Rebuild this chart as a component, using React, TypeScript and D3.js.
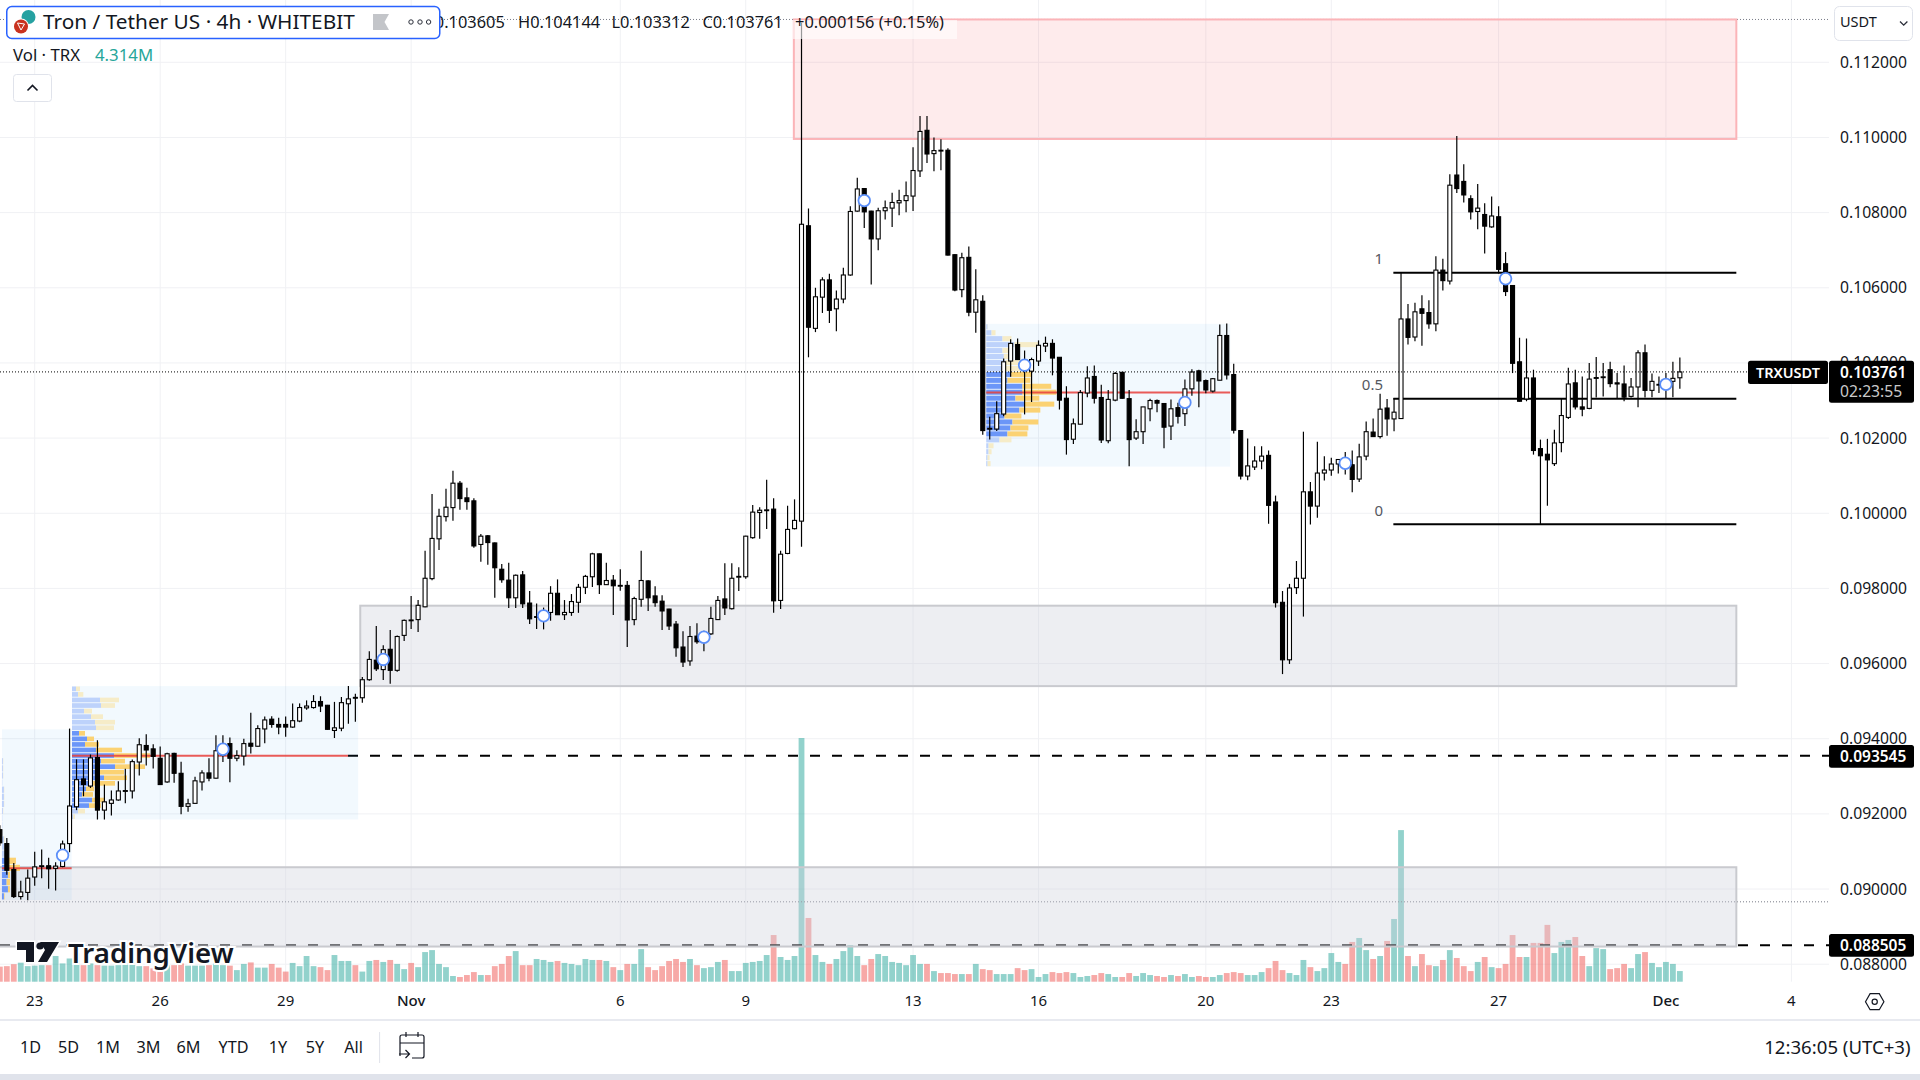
import React, { useEffect, useRef } from 'react';
import * as d3 from 'd3';

// 4h candles, [open, high, low, close], prices x 1000 (first bar is 5 bars before Oct 23)
const octBars = [
  [91.58,91.7,91.15,91.23],[91.21,91.36,90.38,90.5],[90.52,90.69,89.76,89.8],[89.8,90.22,89.72,89.92],[89.91,90.52,89.7,90.29],
  [90.32,90.99,90.09,90.59],[90.6,91.05,90.29,90.62],[90.62,90.83,90.01,90.54],[90.55,90.71,89.96,90.61],[90.6,91.29,90.58,91.2],
  [91.21,94.27,90.98,92.21],[92.19,93.45,92.1,92.91],[92.93,93.45,92.47,92.78],[92.74,93.58,92.69,93.49],[93.5,93.96,91.85,92.1],
  [92.1,92.78,91.85,92.32],[92.28,92.62,91.96,92.37],[92.37,92.87,92.35,92.61],[92.6,93.2,92.28,92.62],[92.61,93.45,92.41,93.39],
  [93.38,94.01,93.02,93.84],[93.82,94.12,93.29,93.7],[93.73,93.85,93.21,93.53],[93.48,93.79,92.78,92.78],[92.85,93.63,92.83,93.6],
  [93.61,93.63,92.83,93.08],[93.08,93.39,91.99,92.2],[92.2,92.4,92.06,92.27],[92.28,92.99,92.28,92.88],[92.85,93.16,92.62,93.09],
  [93.09,93.48,92.87,92.95],[92.95,94.09,92.94,93.68],[93.56,94.09,93.38,93.84],[93.87,94.03,92.84,93.48],[93.48,93.69,93.4,93.55],
  [93.54,94,93.29,93.87],[93.88,94.69,93.61,93.8],[93.8,94.36,93.79,94.27],[94.26,94.59,93.88,94.5],[94.52,94.6,94.29,94.38],
  [94.38,94.56,94.12,94.31],[94.38,94.59,94.05,94.31],[94.31,94.94,94.29,94.48],[94.47,94.94,94.44,94.83],[94.82,95.02,94.77,94.87],
  [94.83,95.16,94.8,94.99],[94.99,95.13,94.71,94.87],[94.89,94.9,94.24,94.25],[94.22,94.98,94.02,94.29],[94.28,95.11,94.2,94.96],
  [94.93,95.4,94.4,95.06],[95.1,95.2,94.45,95.08],[95.09,95.64,94.96,95.57],[95.57,96.33,95.54,96.11],[96.09,97,95.8,95.86],
  [95.84,96.49,95.56,96.37],[96.38,96.89,95.46,95.82],[95.82,96.75,95.78,96.72],[96.75,97.17,96.6,97.15],
];
const novBars = [
  [97.16,97.8,96.92,97.14],[97.17,97.69,96.84,97.55],[97.51,99,97.5,98.27],[98.26,100.51,98.22,99.33],[99.32,100.12,99.02,99.92],
  [99.91,100.65,99.78,100.16],[100.15,101.13,99.8,100.8],[100.8,100.86,100.09,100.39],[100.41,100.68,100.09,100.31],[100.33,100.4,99.08,99.13],
  [99.17,99.45,98.71,99.39],[99.4,99.42,98.63,99.22],[99.21,99.22,97.75,98.55],[98.51,98.65,98.15,98.23],[98.22,98.68,97.48,97.75],
  [97.75,98.37,97.48,98.35],[98.36,98.46,97.48,97.59],[97.61,97.93,97.05,97.19],[97.23,97.6,96.92,97.25],[97.16,97.49,96.91,97.38],
  [97.36,98.06,97.14,97.87],[97.87,98.24,97.3,97.3],[97.3,97.69,97.16,97.36],[97.36,97.85,97.27,97.65],[97.63,98.12,97.35,98.03],
  [98.03,98.36,97.85,98.32],[98.31,98.95,98.04,98.92],[98.92,98.93,97.85,98.1],[98.1,98.68,98.09,98.21],[98.22,98.36,97.29,98.07],
  [98.06,98.51,97.94,98.08],[98.08,98.2,96.44,97.16],[97.17,97.78,97.02,97.73],[97.71,99,97.51,98.21],[98.2,98.22,97.4,97.75],
  [97.8,98.06,97.51,97.62],[97.66,97.82,96.89,97.4],[97.45,97.46,96.89,97],[97.05,97.13,96.18,96.42],[96.44,96.86,95.91,96.04],
  [96.07,97,95.94,96.72],[96.73,97.07,96.53,96.58],[96.58,96.87,96.33,96.8],[96.79,97.51,96.76,97.2],[97.17,97.8,97.16,97.68],
  [97.72,98.67,97.29,97.48],[97.46,98.67,97.44,98.27],[98.3,98.56,97.93,98.32],[98.31,99.4,98.26,99.39],[99.35,100.22,99.32,100.03],
  [100.02,100.16,99.32,100.08],[100.07,100.89,99.58,100.09],[100.11,100.4,97.35,97.67],[97.68,99,97.45,98.91],[98.93,100.2,98.91,99.57],
  [99.59,100.37,99.57,99.81],[99.79,113.05,99.11,107.69],[107.65,108.11,104.15,104.95],[104.92,106,104.82,105.76],[105.75,106.28,105.33,106.21],
  [106.21,106.37,105.06,105.4],[105.44,105.93,104.84,105.7],[105.7,106.53,105.59,106.34],[106.34,108.17,106.32,108.03],[108.04,108.93,108.02,108.63],
  [108.64,108.65,107.59,108.02],[108.04,108.05,106.09,107.3],[107.3,108.13,107,108.05],[108.05,108.32,107.82,108.13],[108.12,108.53,107.62,108.27],
  [108.26,108.61,107.93,108.32],[108.32,108.83,108.01,108.45],[108.44,109.74,108.04,109.12],[109.11,110.57,108.95,110.16],[110.19,110.57,109.32,109.56],
  [109.57,110,109.1,109.65],[109.66,109.95,109.13,109.64],[109.66,109.71,106.86,106.87],[106.88,106.89,105.91,105.94],[105.95,106.93,105.75,106.8],
  [106.81,107.1,105.24,105.35],[105.35,106.49,104.8,105.68],[105.64,105.8,102.09,102.2],[102.26,102.57,101.96,102.24],[102.24,102.98,102.19,102.65],
  [102.64,104.12,102.58,104.03],[104.05,104.63,103.63,104.52],[104.49,104.65,104.08,104.09],[104.09,104.33,102.63,103.83],[103.78,104.14,102.96,104.09],
  [104.05,104.6,103.92,104.47],[104.45,104.7,104.29,104.52],[104.52,104.63,103.67,104.13],[104.15,104.15,102.76,103.01],[103.06,103.38,101.56,101.96],
  [101.97,102.52,101.84,102.38],[102.37,103.28,102.37,103.21],[103.2,103.91,103.09,103.6],[103.64,103.93,102.92,103.06],[103.08,103.42,101.87,101.95],
  [101.93,103.28,101.86,103.03],[103.01,103.76,102.98,103.72],[103.75,103.76,103.05,103.06],[103.05,103.28,101.25,101.96],[102,102.5,101.95,102.17],
  [102.17,102.83,101.84,102.83],[102.78,103.05,102.45,103],[103,103.03,102.69,102.93],[102.92,102.92,101.73,102.29],[102.32,103.03,101.95,102.78],
  [102.81,102.94,102.39,102.58],[102.65,103.56,102.32,103.31],[103.31,103.83,103.13,103.76],[103.79,103.82,102.82,103.52],[103.53,103.56,103.19,103.28],
  [103.25,103.6,103.21,103.58],[103.54,105.02,103.54,104.73],[104.73,105.05,103.56,103.68],[103.69,103.98,102.12,102.21],[102.2,102.21,100.9,100.99],
  [100.99,101.99,100.88,101.26],[101.23,101.78,101.15,101.39],[101.39,101.78,101.17,101.52],[101.54,101.67,99.72,100.21],[100.3,100.47,97.49,97.62],
  [97.63,97.93,95.72,96.1],[96.1,98.12,95.99,98.01],[98.02,98.73,97.85,98.27],[98.27,102.17,97.25,100.57],[100.57,100.83,99.7,100.19],
  [100.19,101.9,99.88,101.07],[101.07,101.52,100.87,101.15],[101.15,101.48,101,101.31],[101.31,101.44,101.06,101.43],[101.43,101.63,101.03,101.25],
  [101.29,101.67,100.56,100.9],[100.91,101.85,100.83,101.5],[101.52,102.44,101.41,102.17],[102.16,102.52,102.03,102.04],[102.04,103.18,101.99,102.77],
  [102.8,103.04,102.06,102.51],[102.51,103.07,102.18,102.69],[102.52,106.42,102.51,105.17],[105.17,105.57,104.49,104.68],[104.69,105.6,104.58,105.36],
  [105.44,105.8,104.46,105.32],[105.34,105.67,104.91,105.04],[105.04,106.84,104.84,106.47],[106.47,106.77,105.93,106.19],[106.18,109.02,106.09,108.73],
  [109,110.04,108.52,108.64],[108.83,109.29,108.27,108.47],[108.37,108.46,107.82,108.02],[108.03,108.76,107.56,108.12],[107.95,108.25,106.91,107.64],
  [107.62,108.43,107.6,107.91],[107.89,108.17,106.38,106.49],[106.64,106.95,105.78,105.9],[106.06,106.07,103.73,103.99],[104.03,104.67,102.97,102.98],
  [103.04,104.65,102.98,103.6],[103.6,103.82,101.56,101.67],[101.72,101.96,99.71,101.53],[101.57,101.98,100.2,101.42],[101.32,102.22,101.26,101.87],
  [101.88,103.07,101.62,102.6],[102.55,103.87,102.51,103.44],[103.47,103.82,102.76,102.83],[102.83,103.64,102.58,102.77],[102.79,104,102.77,103.57],
  [103.59,104.16,103.08,103.61],[103.61,104,103.11,103.63],[103.82,104.03,103.35,103.45],[103.47,103.73,103.04,103.44],[103.44,103.93,102.98,103.09],
  [103.11,103.6,103.08,103.36],[103.36,104.34,102.82,104.27],[104.27,104.49,103.08,103.27],[103.27,103.72,103.09,103.51],[103.41,103.64,103.2,103.43],
];
const decBars = [[103.38,103.73,103.04,103.51],[103.51,104.03,103.09,103.59],[103.605,104.144,103.312,103.761]];

// volume, million TRX
const octVolumes = [
  6.1,6.3,7.1,7.7,6.3,6.5,6.7,6.7,10.4,7.4,9.4,11.5,6.7,7.4,6.7,6.5,6.5,6.7,7.4,7.8,6.3,6.3,5.4,5.4,6.7,6.7,7.4,6.5,6.5,6.5,
  6.7,7.4,6.7,6.5,4.7,7.2,7.8,5.7,5.7,7.2,5.7,4.1,7.6,6.3,10.4,6.3,5.9,4.7,10.8,8.4,8.4,6.7,4.1,8.4,8.8,8,8.8,7.2,5.1,
];
const novVolumes = [
  7.6,5.9,12,12.8,7.2,5.9,2.3,1.9,2.7,3.9,2.7,2.7,6.3,7.2,10.4,12.4,6.7,6.7,9.2,8.8,8,8.4,7.6,7.2,6.7,9.2,8.8,8.8,8.4,5.9,
  4.7,7.2,7.2,13.2,5.9,4.7,6.3,8.4,9.2,8,9.2,6.7,5.5,5.9,8,8.8,4.3,4.3,7.6,8,8.4,10.8,18.9,10,8.8,10.4,98.7,25.8,10.8,8,
  7.2,9.2,12.4,14.8,10.4,6.7,9.2,11.2,10.4,8,7.6,6.7,10.8,7.2,7.2,4.3,3.5,3.5,3.1,3.1,3.1,7.2,5.1,4.7,3.1,3.1,3.1,5.5,4.7,5.1,
  1.9,3.1,3.9,3.5,3.9,3.5,1.9,2.3,2.7,3.5,3.1,1.9,1.9,3.5,2.3,3.5,2.7,2.3,1.9,2.7,2.3,3.1,1.9,2.3,1.9,1.9,2.7,3.5,3.9,3.5,
  2.7,2.7,3.9,5.5,8.4,4.7,3.5,2.7,8.8,5.9,4.3,5.5,11.6,8,7.2,16.1,17.7,12.8,9.2,10.4,16.5,25.4,61.4,10.4,6.3,11.2,6.7,6.3,8.8,12.8,
  9.6,6.3,4.3,8,10,5.9,5.5,7.2,18.9,10,10,15.7,15.7,23,11.6,16.1,16.9,18.1,10.4,6.3,13.6,13.2,5.1,5.5,7.2,5.5,11.2,12,7.6,5.9,
];
const decVolumes = [8, 7.2, 4.314];

const FIRST_BAR = -5;
const bars = [...octBars, ...novBars, ...decBars];
const volumes = [...octVolumes, ...novVolumes, ...decVolumes];

const priceTicks = [112, 110, 108, 106, 104, 102, 100, 98, 96, 94, 92, 90, 88];
const dateLabels = ['23', '26', '29', 'Nov', '6', '9', '13', '16', '20', '23', '27', 'Dec', '4'];
const dateBars = [0, 18, 36, 54, 84, 102, 126, 144, 168, 186, 210, 234, 252];
const rangeLabels = ['1D', '5D', '1M', '3M', '6M', 'YTD', '1Y', '5Y', 'All'];
const rangeCenters = [30.6, 68.6, 108, 148.6, 188.6, 233.5, 278, 315, 353.5];

// circle markers on the candles
const markerBars = [4, 27, 50, 73, 96, 119, 142, 165, 188, 211, 234];
const markerPrices = [90.9, 93.72, 96.11, 97.27, 96.7, 108.32, 103.94, 102.95, 101.33, 106.24, 103.43];

// zones: bar start, top price, bottom price. All end at the same bar.
const ZONE_END_BAR = 244.1;
const resistanceZone = { bar: 108.9, top: 113.14, bottom: 109.96 };
const supportZones = [
  { bar: 46.7, top: 97.54, bottom: 95.4 },
  { bar: -6, top: 90.58, bottom: 88.47 },
];

// fib retracement
const fibLevels = [1, 0.5, 0];
const fibPrices = [106.4, 103.05, 99.71];
const FIB_START_BAR = 194.9;

// volume profiles: up / down volume per row, top row first
const profileAUp = [0,0,0,0,3,3,3,1,6,6,6,3,1,1,2,6,8,10,14,18,18,14,18,6];
const profileADown = [0,0,0,0,1,1,1,0,1,1,1,1,0,0,1,2,2,2,28,36,6,10,6,2];
const profileBUp = [12,18,84,87,36,57,69,72,21,45,39,72,126,87,129,81,96,57,42,30,60,51,18,4];
const profileBDown = [12,16,57,42,24,36,60,54,18,21,42,78,108,72,90,75,69,72,24,33,39,36,21,5];
const profileCUp = [4,16,49,85,49,53,58,56,75,64,109,109,88,115,100,55,79,73,64,40,7,7,4,4];
const profileCDown = [1,12,27,73,24,23,45,47,62,69,87,102,72,90,63,51,78,54,60,36,15,9,6,9];
const profileCore = [
  { up: profileAUp, down: profileADown, from: 18, to: 23 },
  { up: profileBUp, down: profileBDown, from: 8, to: 21 },
  { up: profileCUp, down: profileCDown, from: 8, to: 18 },
];
const profileBox = [
  { x0: -4.7, x1: 5.3, top: 94.25, bottom: 89.71, poc: 90.55, width: 18, pocEnd: 5.3 },
  { x0: 5.35, x1: 46.4, top: 95.4, bottom: 91.85, poc: 93.545, width: 78, pocEnd: 44.95 },
  { x0: 136.5, x1: 171.5, top: 105.04, bottom: 101.24, poc: 103.21, width: 70, pocEnd: 171.5 },
];

const ink = '#131722';
const font = '"Noto Sans", sans-serif';

export default function App() {
  const svgRef = useRef<SVGSVGElement>(null);

  useEffect(() => {
    if (!svgRef.current) return;
    const svg = d3.select(svgRef.current);
    svg.selectAll('*').remove();
    svg.attr('font-family', font);

    const x = d3.scaleLinear().domain([0, 252]).range([34.7, 1791.4]);
    const y = d3.scaleLinear().domain([88, 112]).range([964.2, 62.3]);
    const volY = d3.scaleLinear().domain([0, 98.7]).range([981.7, 738]);
    const PLOT_RIGHT = 1829;

    const text = (g: any, s: string, tx: number, ty: number, size: number, fill: string, anchor = 'start', weight = 400) =>
      g.append('text').attr('x', tx).attr('y', ty).attr('dy', '0.35em').attr('font-size', size)
        .attr('fill', fill).attr('text-anchor', anchor).attr('font-weight', weight).text(s);

    // background and grid
    svg.append('rect').attr('width', 1920).attr('height', 1080).attr('fill', '#fff');
    const grid = svg.append('g').attr('stroke', '#f0f1f4').attr('stroke-width', 1);
    grid.selectAll('.h').data(priceTicks).enter().append('line')
      .attr('x1', 0).attr('x2', PLOT_RIGHT).attr('y1', d => y(d)).attr('y2', d => y(d));
    grid.selectAll('.v').data(dateBars).enter().append('line')
      .attr('x1', d => x(d)).attr('x2', d => x(d)).attr('y1', 0).attr('y2', 981.7);

    // volume
    const barAt = (i: number) => i + FIRST_BAR;
    svg.append('g').selectAll('rect').data(volumes).enter().append('rect')
      .attr('x', (_, i) => x(barAt(i)) - 2.9)
      .attr('width', 5.8)
      .attr('y', d => volY(d))
      .attr('height', d => 981.7 - volY(d))
      .attr('fill', (_, i) => (bars[i][3] >= bars[i][0] ? '#26a69a' : '#ef5350'))
      .attr('opacity', 0.5);

    // dotted high / low lines
    const dotted = [113.14, 89.66];
    svg.append('g').selectAll('line').data(dotted).enter().append('line')
      .attr('x1', 0).attr('x2', PLOT_RIGHT).attr('y1', d => y(d)).attr('y2', d => y(d))
      .attr('stroke', '#787b86').attr('stroke-width', 1).attr('stroke-dasharray', '1 2');

    // horizontal dashed levels
    svg.append('line').attr('x1', 348).attr('x2', PLOT_RIGHT).attr('y1', y(93.545)).attr('y2', y(93.545))
      .attr('stroke', '#000').attr('stroke-width', 2).attr('stroke-dasharray', '10 12');
    svg.append('line').attr('x1', 0).attr('x2', PLOT_RIGHT).attr('y1', y(88.505)).attr('y2', y(88.505))
      .attr('stroke', '#000').attr('stroke-width', 2).attr('stroke-dasharray', '10 12');

    // zones
    const zone = (z: any, fill: string, stroke: string) =>
      svg.append('rect').attr('x', x(z.bar)).attr('width', x(ZONE_END_BAR) - x(z.bar))
        .attr('y', y(z.top)).attr('height', y(z.bottom) - y(z.top))
        .attr('fill', fill).attr('stroke', stroke).attr('stroke-width', 2);
    zone(resistanceZone, 'rgba(242,54,69,0.1)', '#fbb4b8');
    supportZones.forEach(z => zone(z, 'rgba(205,208,219,0.37)', '#c9cacf'));

    // volume profiles
    profileBox.forEach((b, k) => {
      const p = profileCore[k];
      const g = svg.append('g');
      g.append('rect').attr('x', x(b.x0)).attr('width', x(b.x1) - x(b.x0))
        .attr('y', y(b.top)).attr('height', y(b.bottom) - y(b.top))
        .attr('fill', 'rgba(33,150,243,0.06)');
      const rowH = (y(b.bottom) - y(b.top)) / p.up.length;
      const maxTotal = d3.max(p.up.map((u, i) => u + p.down[i])) || 1;
      const w = d3.scaleLinear().domain([0, maxTotal]).range([0, b.width]);
      p.up.forEach((u, i) => {
        const core = i >= p.from && i <= p.to;
        const top = y(b.top) + i * rowH + 0.4;
        g.append('rect').attr('x', x(b.x0)).attr('y', top).attr('width', w(u)).attr('height', rowH - 0.9)
          .attr('fill', core ? '#6b96f8' : '#bdd2fb');
        g.append('rect').attr('x', x(b.x0) + w(u)).attr('y', top).attr('width', w(p.down[i])).attr('height', rowH - 0.9)
          .attr('fill', core ? '#fbd273' : '#f6ecc8');
      });
      g.append('line').attr('x1', x(b.x0)).attr('x2', x(b.pocEnd)).attr('y1', y(b.poc)).attr('y2', y(b.poc))
        .attr('stroke', '#e8403c').attr('stroke-width', 2).attr('opacity', 0.85);
    });

    // fib lines
    const fib = svg.append('g');
    fibLevels.forEach((lv, i) => {
      fib.append('line').attr('x1', x(FIB_START_BAR)).attr('x2', x(ZONE_END_BAR))
        .attr('y1', y(fibPrices[i])).attr('y2', y(fibPrices[i]))
        .attr('stroke', '#000').attr('stroke-width', 2);
      text(fib, String(lv), 1383, y(fibPrices[i]) - 13.5, 15, '#55585f', 'end');
    });

    // candles
    const candle = svg.append('g').selectAll('g').data(bars).enter().append('g');
    candle.append('line')
      .attr('x1', (_, i) => x(barAt(i))).attr('x2', (_, i) => x(barAt(i)))
      .attr('y1', d => y(d[1])).attr('y2', d => y(d[2]))
      .attr('stroke', '#000').attr('stroke-width', 1.2);
    candle.append('rect')
      .attr('x', (_, i) => x(barAt(i)) - 2)
      .attr('width', 4)
      .attr('y', d => y(Math.max(d[0], d[3])))
      .attr('height', d => Math.max(0.8, Math.abs(y(d[0]) - y(d[3]))))
      .attr('fill', d => (d[3] >= d[0] ? '#fff' : '#000'))
      .attr('stroke', '#000').attr('stroke-width', 1.1);

    // markers
    svg.append('g').selectAll('circle').data(markerBars).enter().append('circle')
      .attr('cx', d => x(d)).attr('cy', (_, i) => y(markerPrices[i])).attr('r', 5.8)
      .attr('fill', '#fff').attr('stroke', '#5b8ff9').attr('stroke-width', 1.8);

    // current price line
    svg.append('line').attr('x1', 0).attr('x2', PLOT_RIGHT).attr('y1', y(103.761)).attr('y2', y(103.761))
      .attr('stroke', '#000').attr('stroke-width', 1).attr('stroke-dasharray', '1 2');

    // price axis
    const axis = svg.append('g');
    priceTicks.forEach(t => text(axis, (t / 1000).toFixed(6), 1840, y(t), 15.7, ink));
    const tag = (tx: number, ty: number, w: number, h: number) =>
      axis.append('rect').attr('x', tx).attr('y', ty).attr('width', w).attr('height', h).attr('rx', 2.5).attr('fill', '#000');
    tag(1748, 360.7, 80, 23.3);
    text(axis, 'TRXUSDT', 1788, 372.5, 14.5, '#fff', 'middle', 600);
    tag(1829, 360.7, 85, 42);
    text(axis, '0.103761', 1840, 372.5, 15.5, '#fff', 'start', 600);
    text(axis, '02:23:55', 1840, 392, 15.7, '#c9c9c9');
    tag(1829, 745, 85, 22.7);
    text(axis, '0.093545', 1840, y(93.545) + 0.6, 15.5, '#fff', 'start', 600);
    tag(1829, 934, 85, 22.7);
    text(axis, '0.088505', 1840, y(88.505) + 0.4, 15.5, '#fff', 'start', 600);

    // currency button
    const usdt = svg.append('g');
    usdt.append('rect').attr('x', 1834.5).attr('y', 6.5).attr('width', 78).attr('height', 34).attr('rx', 5)
      .attr('fill', '#fff').attr('stroke', '#e0e3eb');
    text(usdt, 'USDT', 1840, 22, 14.5, ink);
    usdt.append('path').attr('d', 'M1900 21.5l3.7 3.7 3.7-3.7').attr('fill', 'none').attr('stroke', '#2a2e39').attr('stroke-width', 1.3);

    // legend
    const legend = svg.append('g');
    const ohlcLabels = ['H0.104144', 'L0.103312', 'C0.103761', '+0.000156 (+0.15%)'];
    const ohlcX = [518, 611.4, 702.4, 795];
    legend.append('rect').attr('x', 793).attr('y', 20).attr('width', 164).attr('height', 19).attr('fill', 'rgba(255,255,255,0.6)');
    text(legend, 'O0.103605', 422, 22, 16.4, ink);
    ohlcLabels.forEach((s, i) => text(legend, s, ohlcX[i], 22, 16.4, ink));
    legend.append('rect').attr('x', 6.75).attr('y', 6.5).attr('width', 433).attr('height', 32).attr('rx', 5)
      .attr('fill', '#fff').attr('stroke', '#2962ff').attr('stroke-width', 1.5);
    legend.append('circle').attr('cx', 28.5).attr('cy', 17).attr('r', 7).attr('fill', '#26a1a1');
    legend.append('circle').attr('cx', 21).attr('cy', 26.5).attr('r', 8).attr('fill', '#fff');
    legend.append('circle').attr('cx', 21).attr('cy', 26.5).attr('r', 7).attr('fill', '#c9321f');
    legend.append('path').attr('d', 'M17.5 23l7 1-3.5 6z').attr('fill', 'none').attr('stroke', '#fff').attr('stroke-width', 1);
    text(legend, 'Tron / Tether US · 4h · WHITEBIT', 43, 22, 20.8, ink);
    legend.append('path').attr('d', 'M373 14h16l-4.5 8 4.5 8h-16z').attr('fill', '#c3c5c9');
    [411, 420, 428.6].forEach(c => legend.append('circle').attr('cx', c).attr('cy', 22).attr('r', 2.2)
      .attr('fill', 'none').attr('stroke', '#2a2e39').attr('stroke-width', 1));
    text(legend, 'Vol · TRX', 13, 55.5, 16.8, ink);
    text(legend, '4.314M', 95, 55.5, 16.8, '#26a69a');
    legend.append('rect').attr('x', 13.5).attr('y', 74.5).attr('width', 38).attr('height', 27).attr('rx', 3)
      .attr('fill', '#fff').attr('stroke', '#e0e3eb');
    legend.append('path').attr('d', 'M27.5 90.5l5-5 5 5').attr('fill', 'none').attr('stroke', ink).attr('stroke-width', 1.6);

    // watermark
    const logo = svg.append('g');
    logo.append('path')
      .attr('d', 'M17 942h17v20h-8v-12h-9z M40 942h19l-12 20h-9l7-12z')
      .attr('fill', ink).attr('stroke', '#fff').attr('stroke-width', 3).attr('paint-order', 'stroke');
    logo.append('circle').attr('cx', 40).attr('cy', 946).attr('r', 3.6).attr('fill', ink);
    text(logo, 'TradingView', 68, 953, 27.6, ink, 'start', 600)
      .attr('stroke', '#fff').attr('stroke-width', 4).attr('paint-order', 'stroke');

    // time axis
    const timeAxis = svg.append('g');
    timeAxis.append('line').attr('x1', 0).attr('x2', 1920).attr('y1', 1020).attr('y2', 1020).attr('stroke', '#e0e3eb').attr('stroke-width', 1.5);
    dateLabels.forEach((s, i) => text(timeAxis, s, x(dateBars[i]), 1001, 15, ink, 'middle', s === 'Nov' || s === 'Dec' ? 500 : 400));
    timeAxis.append('path').attr('d', 'M1865.5 1001.7l4.6-8h9.2l4.6 8-4.6 8h-9.2z').attr('fill', 'none').attr('stroke', ink).attr('stroke-width', 1.2);
    timeAxis.append('circle').attr('cx', 1874.7).attr('cy', 1001.7).attr('r', 2.6).attr('fill', 'none').attr('stroke', ink).attr('stroke-width', 1.2);

    // bottom toolbar
    const bottom = svg.append('g');
    rangeLabels.forEach((s, i) => text(bottom, s, rangeCenters[i], 1047, 16.2, ink, 'middle'));
    bottom.append('line').attr('x1', 379.6).attr('x2', 379.6).attr('y1', 1032).attr('y2', 1063).attr('stroke', '#e0e3eb');
    bottom.append('path')
      .attr('d', 'M400 1056v-19a2 2 0 0 1 2-2h20a2 2 0 0 1 2 2v19a2 2 0 0 1-2 2h-10 M400 1043h24 M406 1032v5 M418 1032v5 M399 1054h10 M405.500 1050l4 4-4 4')
      .attr('fill', 'none').attr('stroke', ink).attr('stroke-width', 1.2);
    text(bottom, '12:36:05 (UTC+3)', 1910.6, 1047, 18.6, ink, 'end');
    bottom.append('rect').attr('x', 0).attr('y', 1074).attr('width', 1920).attr('height', 6).attr('fill', '#e0e3eb');
  }, []);

  return <svg ref={svgRef} width={1920} height={1080} style={{ position: 'absolute', left: 0, top: 0, display: 'block' }} />;
}
